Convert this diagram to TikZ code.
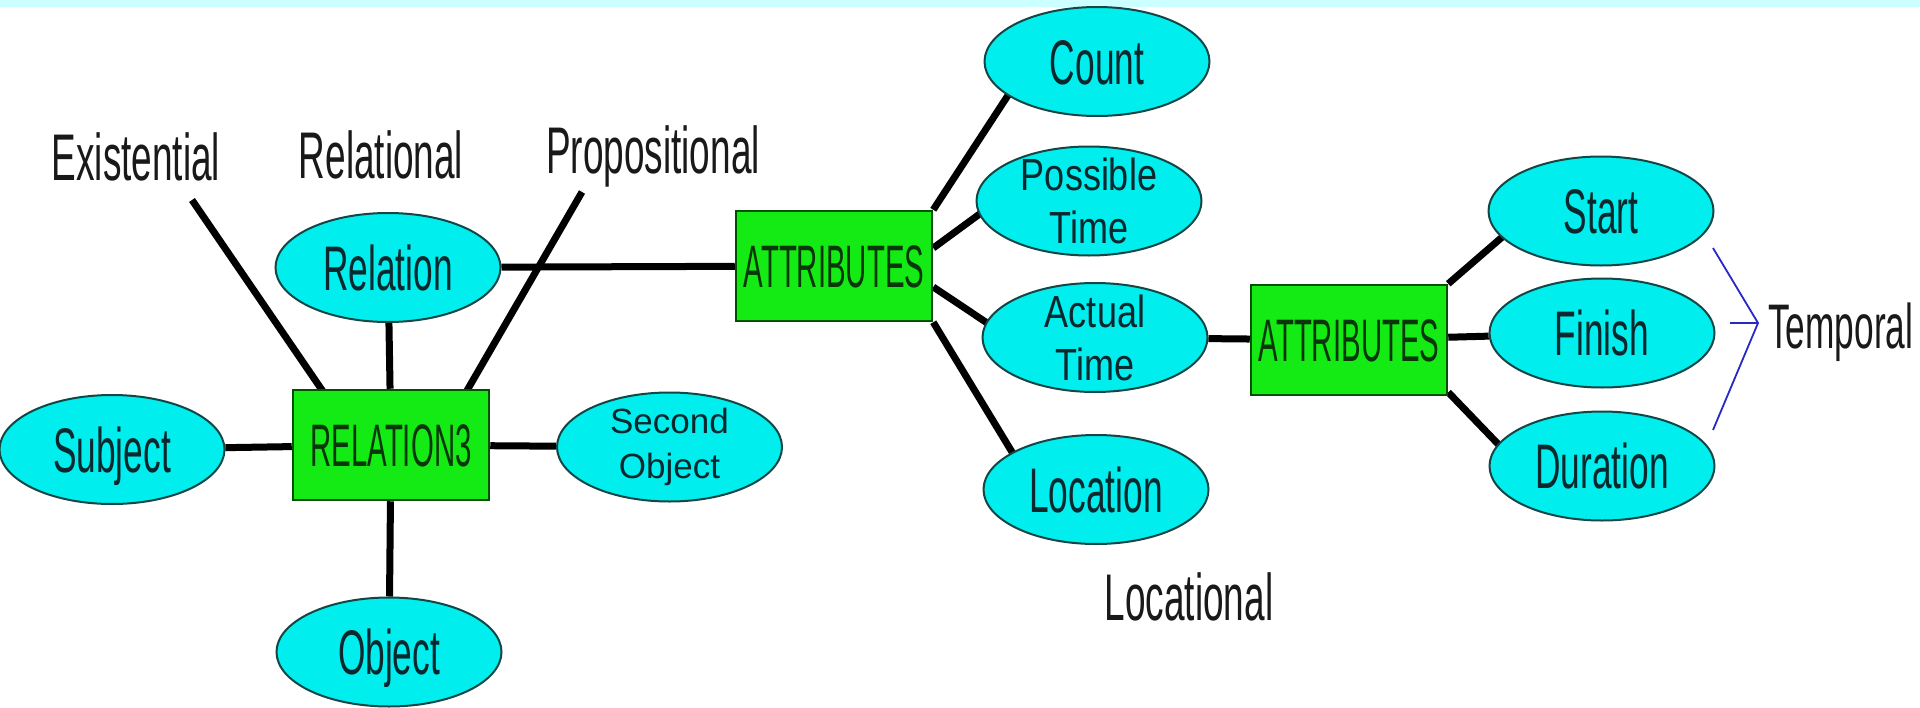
\documentclass[tikz,border=0pt]{standalone}
\usepackage{fontspec}
\usetikzlibrary{calc,shapes.geometric}
\newfontfamily\fsingle[FakeStretch=0.56]{Liberation Sans}
\newfontfamily\frectfont[FakeStretch=0.49]{Liberation Sans}
\newfontfamily\ftwo[FakeStretch=0.8]{Liberation Sans}
\newfontfamily\fplainsans{Liberation Sans}
\definecolor{ellfill}{RGB}{0,238,238}
\definecolor{elldraw}{RGB}{20,70,70}
\definecolor{elltext}{RGB}{10,40,45}
\definecolor{boxfill}{RGB}{20,235,20}
\definecolor{boxdraw}{RGB}{0,80,0}
\definecolor{boxtext}{RGB}{10,55,10}
\definecolor{bandcol}{RGB}{204,255,255}
\definecolor{labtext}{RGB}{25,25,25}
\definecolor{brkcol}{RGB}{40,40,200}
\pgfdeclarelayer{bg}
\pgfsetlayers{bg,main}
\tikzset{
  ell/.style={ellipse, draw=elldraw, line width=2pt, fill=ellfill,
    minimum width=225pt, minimum height=109pt, inner sep=-10pt, text=elltext},
  one/.style={ell, font=\fsingle\fontsize{63}{70}\selectfont, text height=45pt, text depth=0pt},
  two/.style={ell, font=\ftwo\fontsize{45}{53}\selectfont, align=center},
  twoplain/.style={ell, font=\fplainsans\fontsize{35}{45}\selectfont, align=center},
  rect/.style={rectangle, draw=boxdraw, line width=2.5pt, fill=boxfill,
    minimum width=196pt, minimum height=110pt, inner sep=0pt, text=boxtext,
    font=\frectfont\fontsize{60}{66}\selectfont, text height=43pt, text depth=0pt},
  lab/.style={font=\fsingle\fontsize{66}{70}\selectfont, text=labtext, inner sep=0pt, anchor=base},
  ln/.style={line width=7pt, black},
  brkline/.style={line width=1.8pt, brkcol}
}
\begin{document}
\begin{tikzpicture}[x=1pt, y=-1pt]
\useasboundingbox (0,0) rectangle (1920,707);

% nodes
\node[one] (rel) at (388,267.5) {Relation};
\node[rect] (r3) at (391,445) {RELATION3};
\node[one] (subj) at (112,449.5) {Subject};
\node[twoplain] (sec) at (669.5,447) {Second\\Object};
\node[one] (obj) at (389,652) {Object};
\node[rect] (a1) at (834,266) {ATTRIBUTES};
\node[one] (count) at (1097,61.5) {Count};
\node[two] (pt) at (1089,201) {Possible\\Time};
\node[two] (at) at (1095,337.5) {Actual\\Time};
\node[one] (loc) at (1096,489.5) {Location};
\node[rect] (a2) at (1349,340) {ATTRIBUTES};
\node[one] (start) at (1601,211) {Start};
\node[one] (fin) at (1602,333) {Finish};
\node[one] (dur) at (1602,466) {Duration};

% labels
\node[lab] (lex) at (136,180) {Existential};
\node[lab] (lrel) at (381,178) {Relational};
\node[lab] (lprop) at (653,173) {Propositional};
\node[lab] (lloc) at (1189,620) {Locational};
\node[lab, anchor=base west, font=\fsingle\fontsize{63}{70}\selectfont] (ltemp) at (1768,348) {Temporal};

% free ends and border points
\coordinate (exE) at (192,200);
\coordinate (prE) at (582,192);
\coordinate (exB) at ($(r3.north west)!0.148!(r3.north east)$);
\coordinate (prB) at ($(r3.north west)!0.888!(r3.north east)$);
\coordinate (a1pt) at ($(a1.east)+(0,-18)$);
\coordinate (a1at) at ($(a1.east)+(0,21)$);
\coordinate (a2dur) at ($(a2.south east)+(0,-4)$);

\coordinate (tb1) at (1713,248);
\coordinate (tb2) at (1758,323);
\coordinate (tb3) at (1713,430);
\coordinate (tb4) at (1730,323);

\begin{pgfonlayer}{bg}
  \fill[white] (0,0) rectangle (1920,707);
  \fill[bandcol] (0,0) rectangle (1920,7);
  \draw[ln] (exE) -- ($(exE)!1.04!(exB)$);
  \draw[ln] (prE) -- ($(prE)!1.04!(prB)$);
  \draw[ln] (rel) -- (r3);
  \draw[ln] (rel) -- (a1);
  \draw[ln] (subj) -- (r3);
  \draw[ln] (r3) -- (sec);
  \draw[ln] (r3) -- (obj);
  \draw[ln] (a1.north east) -- ($(a1.north east)!1.08!(count.201)$);
  \draw[ln] (a1pt) -- ($(a1pt)!1.1!(pt.187)$);
  \draw[ln] (a1at) -- ($(a1at)!1.1!(at.172)$);
  \draw[ln] (a1.south east) -- ($(a1.south east)!1.06!(loc.156)$);
  \draw[ln] (at) -- (a2);
  \draw[ln] (a2.north east) -- ($(a2.north east)!1.1!(start.195)$);
  \draw[ln] (a2) -- (fin);
  \draw[ln] (a2dur) -- ($(a2dur)!1.1!(dur.168)$);
\end{pgfonlayer}

\draw[brkline] (tb1) -- (tb2) -- (tb3);
\draw[brkline] (tb4) -- (tb2);
\end{tikzpicture}
\end{document}
